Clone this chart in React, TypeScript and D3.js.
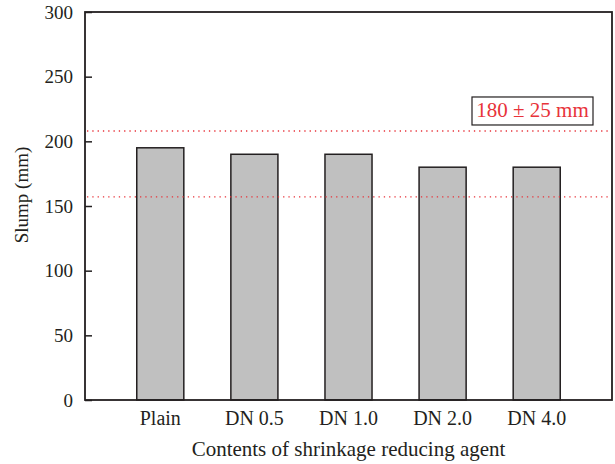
import React, { useEffect, useRef } from "react";
import * as d3 from "d3";

// data
const categories = ["Plain", "DN 0.5", "DN 1.0", "DN 2.0", "DN 4.0"];
const slumpValues = [195, 190, 190, 180, 180];
const yTicks = [0, 50, 100, 150, 200, 250, 300];
const limitLines = [157, 208];
const limitLabel = "180 ± 25 mm";

const W = 615;
const H = 464;
const margin = { top: 12, right: 3, bottom: 64, left: 85 };
const FONT = "'Liberation Serif', 'Times New Roman', serif";
const INK = "#231f20";
const RED = "#e8333a";

export default function App() {
  const ref = useRef<SVGSVGElement>(null);

  useEffect(() => {
    const svg = d3.select(ref.current);
    svg.selectAll("*").remove();

    const width = W - margin.left - margin.right;
    const height = H - margin.top - margin.bottom;

    const x = d3.scaleBand()
      .domain(categories)
      .range([0, width])
      .paddingInner(0.5)
      .paddingOuter(0.55);

    const y = d3.scaleLinear().domain([0, 300]).range([height, 0]);

    const g = svg.append("g")
      .attr("transform", `translate(${margin.left},${margin.top})`);

    // bars
    g.selectAll("rect.bar")
      .data(slumpValues)
      .enter()
      .append("rect")
        .attr("class", "bar")
        .attr("x", (d, i) => x(categories[i])!)
        .attr("y", (d) => y(d))
        .attr("width", x.bandwidth())
        .attr("height", (d) => height - y(d))
        .attr("fill", "#c0c0c0")
        .attr("stroke", INK)
        .attr("stroke-width", 1.5);

    // red dotted limits
    g.selectAll("line.limit")
      .data(limitLines)
      .enter()
      .append("line")
        .attr("class", "limit")
        .attr("x1", 2)
        .attr("x2", width - 2)
        .attr("y1", (d) => y(d))
        .attr("y2", (d) => y(d))
        .attr("stroke", RED)
        .attr("stroke-width", 1.3)
        .attr("stroke-dasharray", "1.3,4");

    // label box
    const box = g.append("g")
      .attr("transform", `translate(${width - 140},${y(limitLines[1]) - 34})`);
    box.append("rect")
      .attr("width", 121)
      .attr("height", 28)
      .attr("fill", "#fff")
      .attr("stroke", INK)
      .attr("stroke-width", 1.2);
    box.append("text")
      .attr("x", 60.5)
      .attr("y", 20.5)
      .attr("text-anchor", "middle")
      .attr("font-family", FONT)
      .attr("font-size", 21)
      .attr("fill", RED)
      .text(limitLabel);

    // y axis (ticks inward)
    const yAxis = g.append("g")
      .call(d3.axisLeft(y).tickValues(yTicks).tickSize(-7).tickPadding(12));
    yAxis.select(".domain").remove();
    yAxis.selectAll(".tick line").attr("stroke", INK).attr("stroke-width", 1.5);
    yAxis.selectAll(".tick text")
      .attr("font-family", FONT)
      .attr("font-size", 19)
      .attr("fill", INK);

    // x axis labels
    const xAxis = g.append("g")
      .attr("transform", `translate(0,${height})`)
      .call(d3.axisBottom(x).tickSize(0).tickPadding(11));
    xAxis.select(".domain").remove();
    xAxis.selectAll(".tick text")
      .attr("font-family", FONT)
      .attr("font-size", 20)
      .attr("fill", INK)
      .attr("dy", "0.68em");

    // frame
    g.append("rect")
      .attr("width", width)
      .attr("height", height)
      .attr("fill", "none")
      .attr("stroke", INK)
      .attr("stroke-width", 1.8);

    // axis titles
    g.append("text")
      .attr("x", width / 2)
      .attr("y", height + 56)
      .attr("text-anchor", "middle")
      .attr("font-family", FONT)
      .attr("font-size", 21)
      .attr("fill", INK)
      .text("Contents of shrinkage reducing agent");

    g.append("text")
      .attr("transform", `translate(${-margin.left + 28},${height / 2 - 11}) rotate(-90)`)
      .attr("text-anchor", "middle")
      .attr("font-family", FONT)
      .attr("font-size", 19)
      .attr("fill", INK)
      .text("Slump (mm)");
  }, []);

  return (
    <svg
      ref={ref}
      width={W}
      height={H}
      style={{ position: "absolute", left: 0, top: 0, background: "#fff" }}
    />
  );
}
